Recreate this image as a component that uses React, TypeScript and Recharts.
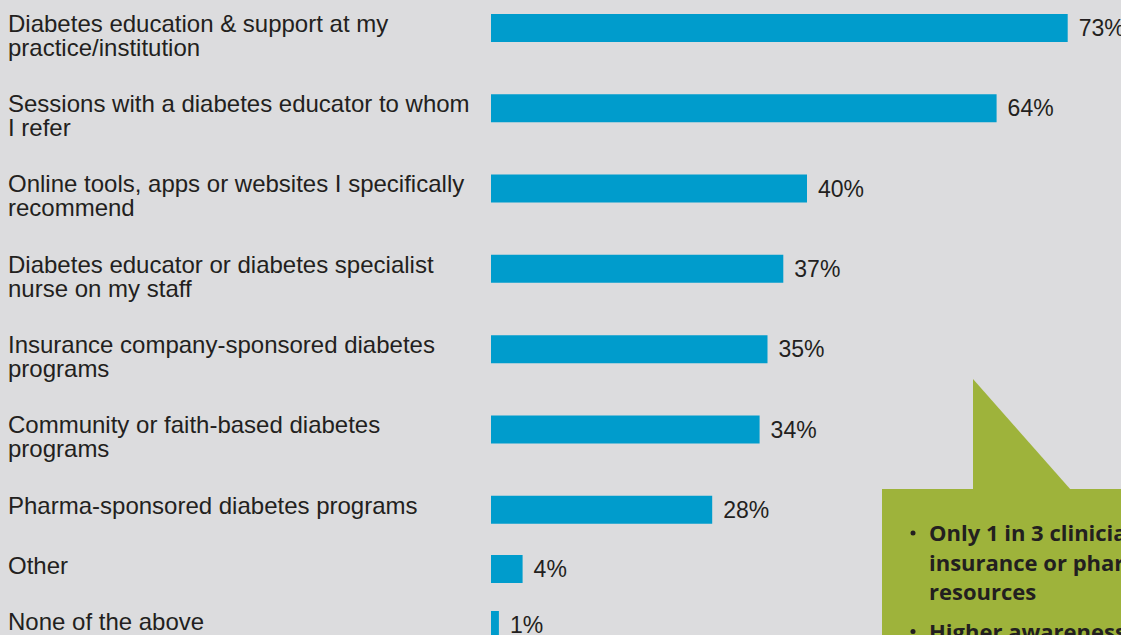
import React from 'react';
import { BarChart, Bar, XAxis, YAxis, LabelList } from 'recharts';

// survey answers, top to bottom
const categories = [
  'Diabetes education & support at my\npractice/institution',
  'Sessions with a diabetes educator to whom\nI refer',
  'Online tools, apps or websites I specifically\nrecommend',
  'Diabetes educator or diabetes specialist\nnurse on my staff',
  'Insurance company-sponsored diabetes\nprograms',
  'Community or faith-based diabetes\nprograms',
  'Pharma-sponsored diabetes programs',
  'Other',
  'None of the above',
];
const percents = [73, 64, 40, 37, 35, 34, 28, 4, 1];

const calloutLines = [
  ['Only 1 in 3 clinicians recommend', 'insurance or pharma-sponsored', 'resources'],
  ['Higher awareness of these programs'],
];

const rows = categories.map((name, i) => ({ name, value: percents[i] }));
// the last two single-line rows sit closer together in the original
const upperRows = rows.slice(0, 7);
const lowerRows = rows.slice(7);

const BG = '#dcdcde';
const BLUE = '#009ccc';
const GREEN = '#9eb33b';
const INK = '#231f20';
const LABEL_FONT = '"Liberation Sans", Arial, sans-serif';

const LabelTick = (props: any) => {
  const { y, payload } = props;
  const lines = String(payload.value).split('\n');
  const shift = lines.length > 1 ? 3.5 : 4.5;
  return (
    <text x={8} y={y + shift} fill={INK} fontSize={24} fontFamily={LABEL_FONT}>
      {lines.map((l, i) => (
        <tspan key={i} x={8} dy={i === 0 ? 0 : 24}>{l}</tspan>
      ))}
    </text>
  );
};

const Rows = ({ data, height }: { data: typeof rows; height: number }) => (
  <BarChart
    layout="vertical"
    width={1123}
    height={height}
    data={data}
    margin={{ top: 0, right: 0, left: 0, bottom: 0 }}
  >
    <XAxis type="number" domain={[0, 80]} hide />
    <YAxis
      type="category"
      dataKey="name"
      width={491}
      axisLine={false}
      tickLine={false}
      interval={0}
      tick={LabelTick}
    />
    <Bar dataKey="value" fill={BLUE} barSize={28} isAnimationActive={false}>
      <LabelList
        dataKey="value"
        position="right"
        offset={11}
        formatter={(v: any) => `${v}%`}
        fill={INK}
        fontSize={23}
        fontFamily={LABEL_FONT}
      />
    </Bar>
  </BarChart>
);

const Callout = () => {
  let y = 541;
  const items: React.ReactNode[] = [];
  calloutLines.forEach((group, gi) => {
    items.push(
      <circle key={`b${gi}`} cx={913} cy={y - 8} r={2.5} fill={INK} />
    );
    group.forEach((line, li) => {
      items.push(
        <text key={`${gi}-${li}`} x={929} y={y} fontSize={22} fontWeight={700} fill={INK}>{line}</text>
      );
      y += 29.5;
    });
    y += 10;
  });
  return (
    <svg
      width={1121}
      height={635}
      style={{ position: 'absolute', left: 0, top: 0, pointerEvents: 'none' }}
      fontFamily="'Open Sans', Lato, sans-serif"
    >
      <polygon points="973,379 973,490 1071,490" fill={GREEN} />
      <rect x={882} y={489} width={260} height={160} fill={GREEN} />
      {items}
    </svg>
  );
};

export default function App() {
  return (
    <div
      style={{
        position: 'fixed',
        left: 0,
        top: 0,
        width: 1121,
        height: 635,
        overflow: 'hidden',
        background: BG,
      }}
    >
      <div style={{ position: 'absolute', left: 0, top: -12 }}>
        <Rows data={upperRows} height={562} />
      </div>
      <div style={{ position: 'absolute', left: 0, top: 541 }}>
        <Rows data={lowerRows} height={112} />
      </div>
      <Callout />
    </div>
  );
}
